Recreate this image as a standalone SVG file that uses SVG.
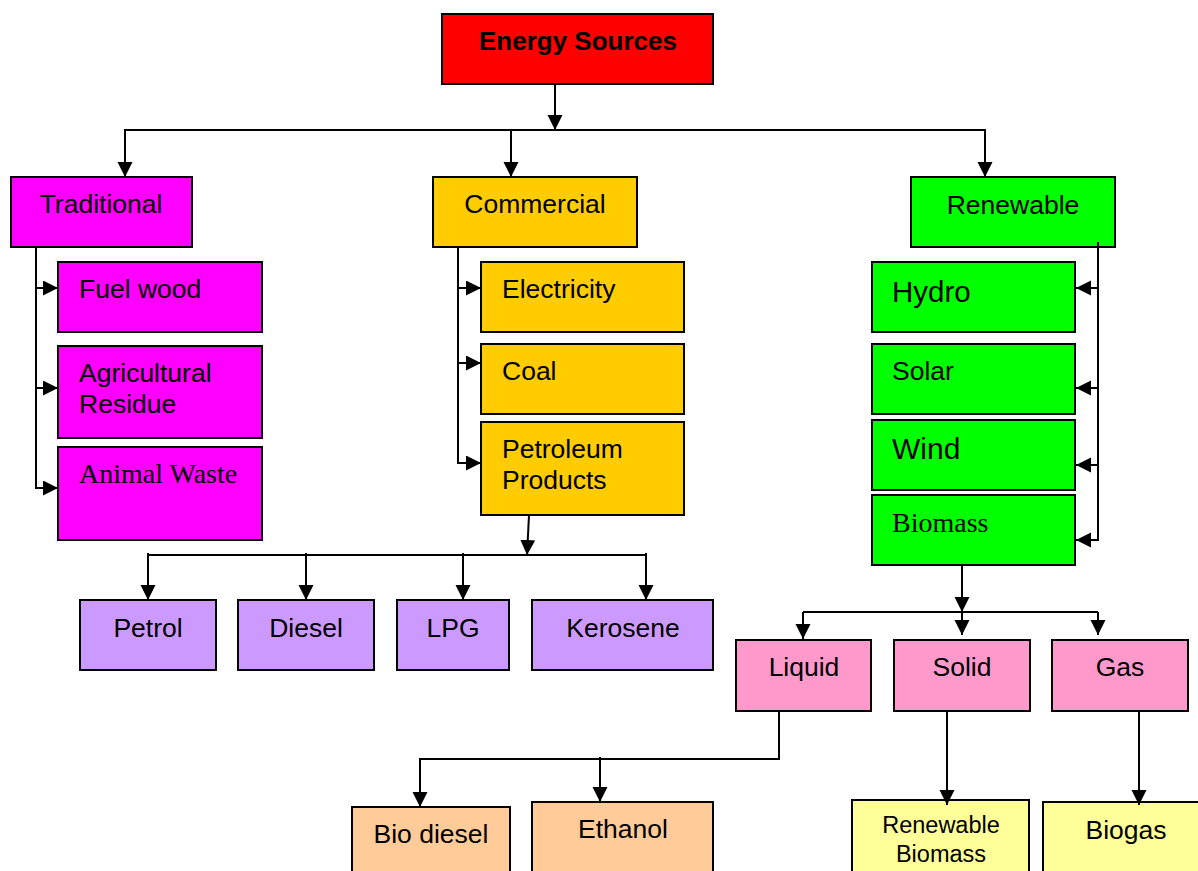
<svg xmlns="http://www.w3.org/2000/svg" width="1198" height="871" viewBox="0 0 1198 871">
<style>
.box{stroke:#000;stroke-width:2}
.t{font-family:"Liberation Sans",Arial,sans-serif;font-size:26.5px;fill:#000}
.s{font-family:"Liberation Serif","DejaVu Serif",serif;font-size:28px;fill:#000}
.c{text-anchor:middle}
.ln{fill:none;stroke:#000;stroke-width:2}
.red{fill:#FF0000}.mag{fill:#FF00FF}.yel{fill:#FFCC00}.grn{fill:#00FF00}.pur{fill:#CC99FF}.pnk{fill:#FF99CC}.org{fill:#FFCC99}.lye{fill:#FFFF99}
</style>
<defs>
<marker id="ah" markerUnits="userSpaceOnUse" markerWidth="16" markerHeight="16" refX="15" refY="7.5" orient="auto">
<path d="M0,0 L15,7.5 L0,15 z" fill="#000"/>
</marker>
</defs>
<g id="n-energy"><rect class="box red" x="442" y="14" width="271" height="70"/><text class="t c" x="578" y="50" style="font-weight:bold;font-size:26px">Energy Sources</text></g>
<g id="n-traditional"><rect class="box mag" x="11" y="177" width="181" height="70"/><text class="t c" x="101" y="213">Traditional</text></g>
<g id="n-commercial"><rect class="box yel" x="433" y="177" width="204" height="70"/><text class="t c" x="535" y="213">Commercial</text></g>
<g id="n-renewable"><rect class="box grn" x="911" y="177" width="204" height="70"/><text class="t c" x="1013" y="214">Renewable</text></g>
<g id="n-fuelwood"><rect class="box mag" x="58" y="262" width="204" height="70"/><text class="t" x="79" y="298">Fuel wood</text></g>
<g id="n-agri"><rect class="box mag" x="58" y="346" width="204" height="92"/><text class="t" x="79" y="382">Agricultural</text><text class="t" x="79" y="413">Residue</text></g>
<g id="n-animal"><rect class="box mag" x="58" y="447" width="204" height="93"/><text class="s" x="79" y="483">Animal Waste</text></g>
<g id="n-electricity"><rect class="box yel" x="481" y="262" width="203" height="70"/><text class="t" x="502" y="298">Electricity</text></g>
<g id="n-coal"><rect class="box yel" x="481" y="344" width="203" height="70"/><text class="t" x="502" y="380">Coal</text></g>
<g id="n-petroleum"><rect class="box yel" x="481" y="422" width="203" height="93"/><text class="t" x="502" y="458">Petroleum</text><text class="t" x="502" y="489">Products</text></g>
<g id="n-hydro"><rect class="box grn" x="872" y="262" width="203" height="70"/><text class="t" x="892" y="302" style="font-size:29.5px">Hydro</text></g>
<g id="n-solar"><rect class="box grn" x="872" y="344" width="203" height="70"/><text class="t" x="892" y="380">Solar</text></g>
<g id="n-wind"><rect class="box grn" x="872" y="420" width="203" height="70"/><text class="t" x="892" y="459" style="font-size:30px">Wind</text></g>
<g id="n-biomass"><rect class="box grn" x="872" y="495" width="203" height="70"/><text class="s" x="892" y="532">Biomass</text></g>
<g id="n-petrol"><rect class="box pur" x="80" y="600" width="136" height="70"/><text class="t c" x="148" y="637">Petrol</text></g>
<g id="n-diesel"><rect class="box pur" x="238" y="600" width="136" height="70"/><text class="t c" x="306" y="637">Diesel</text></g>
<g id="n-lpg"><rect class="box pur" x="397" y="600" width="112" height="70"/><text class="t c" x="453" y="637">LPG</text></g>
<g id="n-kerosene"><rect class="box pur" x="532" y="600" width="181" height="70"/><text class="t c" x="623" y="637">Kerosene</text></g>
<g id="n-liquid"><rect class="box pnk" x="736" y="640" width="135" height="71"/><text class="t c" x="804" y="676">Liquid</text></g>
<g id="n-solid"><rect class="box pnk" x="894" y="640" width="136" height="71"/><text class="t c" x="962" y="676">Solid</text></g>
<g id="n-gas"><rect class="box pnk" x="1052" y="640" width="136" height="71"/><text class="t c" x="1120" y="676">Gas</text></g>
<g id="n-biodiesel"><rect class="box org" x="352" y="807" width="158" height="70"/><text class="t c" x="431" y="843">Bio diesel</text></g>
<g id="n-ethanol"><rect class="box org" x="532" y="802" width="181" height="75"/><text class="t c" x="623" y="838">Ethanol</text></g>
<g id="n-renbiomass"><rect class="box lye" x="852" y="800" width="177" height="77"/><text class="t c" x="941" y="833" style="font-size:23.5px">Renewable</text><text class="t c" x="941" y="862" style="font-size:23.5px">Biomass</text></g>
<g id="n-biogas"><rect class="box lye" x="1043" y="802" width="160" height="75"/><text class="t c" x="1126" y="839">Biogas</text></g>
<g id="connectors">
<path class="ln" d="M555,84 V130" marker-end="url(#ah)"/>
<path class="ln" d="M125,177 V130 H985 V177" marker-end="url(#ah)"/>
<path class="ln" d="M511,130 V177" marker-end="url(#ah)"/>
<path class="ln" d="M125,130 V177" marker-end="url(#ah)"/>
<path class="ln" d="M36,247 V488 H58" marker-end="url(#ah)"/>
<path class="ln" d="M36,288 H58" marker-end="url(#ah)"/>
<path class="ln" d="M36,388 H58" marker-end="url(#ah)"/>
<path class="ln" d="M458,247 V463 H481" marker-end="url(#ah)"/>
<path class="ln" d="M458,288 H481" marker-end="url(#ah)"/>
<path class="ln" d="M458,363 H481" marker-end="url(#ah)"/>
<path class="ln" d="M1098,242 V540 H1076" marker-end="url(#ah)"/>
<path class="ln" d="M1098,288 H1076" marker-end="url(#ah)"/>
<path class="ln" d="M1098,388 H1076" marker-end="url(#ah)"/>
<path class="ln" d="M1098,465 H1076" marker-end="url(#ah)"/>
<path class="ln" d="M529,515 L527,555" marker-end="url(#ah)"/>
<path class="ln" d="M148,555 H646"/>
<path class="ln" d="M148,553 V600" marker-end="url(#ah)"/>
<path class="ln" d="M306,553 V600" marker-end="url(#ah)"/>
<path class="ln" d="M463,553 V600" marker-end="url(#ah)"/>
<path class="ln" d="M646,553 V600" marker-end="url(#ah)"/>
<path class="ln" d="M962,565 V612" marker-end="url(#ah)"/>
<path class="ln" d="M803,612 H1098"/>
<path class="ln" d="M803,612 V639" marker-end="url(#ah)"/>
<path class="ln" d="M962,612 V635" marker-end="url(#ah)"/>
<path class="ln" d="M1098,612 V635" marker-end="url(#ah)"/>
<path class="ln" d="M779,711 V759 H420 V807" marker-end="url(#ah)"/>
<path class="ln" d="M600,757 V802" marker-end="url(#ah)"/>
<path class="ln" d="M947,711 V805" marker-end="url(#ah)"/>
<path class="ln" d="M1139,711 V805" marker-end="url(#ah)"/>
</g>
</svg>
